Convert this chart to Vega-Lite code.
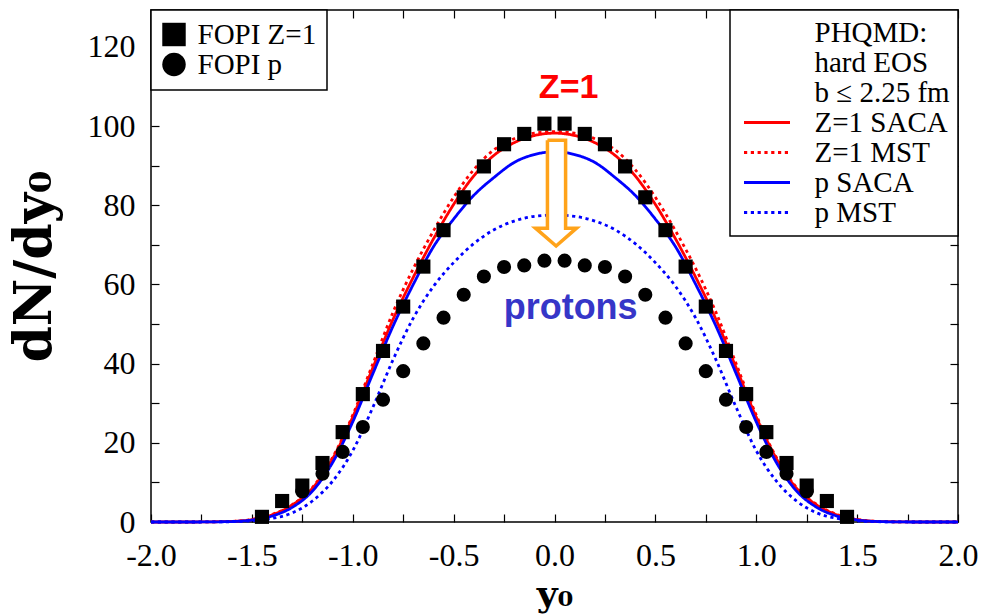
{
  "$schema": "https://vega.github.io/schema/vega-lite/v6.json",
  "width": 807,
  "height": 512,
  "autosize": {"type": "none"},
  "padding": {"left": 151, "top": 10, "right": 24, "bottom": 92},
  "background": "white",
  "config": {
    "view": {"stroke": "black", "strokeWidth": 1.5},
    "axis": {
      "domain": false, "grid": false, "tickColor": "black", "tickWidth": 1.2, "tickSize": -8,
      "labelFont": "Liberation Serif", "labelFontSize": 32, "labelColor": "black",
      "titleFont": "DejaVu Serif", "titleFontWeight": "bold", "titleColor": "black",
      "labelFlush": false, "labelOverlap": false
    },
    "legend": {"strokeWidth": 1.5}
  },
  "datasets": {
    "curves": [
      {"s":"Z=1 SACA","x":-2.0,"y":0},{"s":"Z=1 SACA","x":-1.9,"y":0},{"s":"Z=1 SACA","x":-1.8,"y":0},{"s":"Z=1 SACA","x":-1.7,"y":0.05},{"s":"Z=1 SACA","x":-1.6,"y":0.15},{"s":"Z=1 SACA","x":-1.5,"y":0.6},{"s":"Z=1 SACA","x":-1.4,"y":1.8},{"s":"Z=1 SACA","x":-1.3,"y":4.3},{"s":"Z=1 SACA","x":-1.2,"y":8.5},{"s":"Z=1 SACA","x":-1.1,"y":16.0},{"s":"Z=1 SACA","x":-1.0,"y":26.5},{"s":"Z=1 SACA","x":-0.9,"y":39.0},{"s":"Z=1 SACA","x":-0.8,"y":51.2},{"s":"Z=1 SACA","x":-0.7,"y":61.8},{"s":"Z=1 SACA","x":-0.6,"y":71.5},{"s":"Z=1 SACA","x":-0.5,"y":80.2},{"s":"Z=1 SACA","x":-0.4,"y":87.4},{"s":"Z=1 SACA","x":-0.3,"y":92.6},{"s":"Z=1 SACA","x":-0.2,"y":95.8},{"s":"Z=1 SACA","x":-0.1,"y":97.6},{"s":"Z=1 SACA","x":0.0,"y":98.2},{"s":"Z=1 SACA","x":0.1,"y":97.6},{"s":"Z=1 SACA","x":0.2,"y":95.8},{"s":"Z=1 SACA","x":0.3,"y":92.6},{"s":"Z=1 SACA","x":0.4,"y":87.4},{"s":"Z=1 SACA","x":0.5,"y":80.2},{"s":"Z=1 SACA","x":0.6,"y":71.5},{"s":"Z=1 SACA","x":0.7,"y":61.8},{"s":"Z=1 SACA","x":0.8,"y":51.2},{"s":"Z=1 SACA","x":0.9,"y":39.0},{"s":"Z=1 SACA","x":1.0,"y":26.5},{"s":"Z=1 SACA","x":1.1,"y":16.0},{"s":"Z=1 SACA","x":1.2,"y":8.5},{"s":"Z=1 SACA","x":1.3,"y":4.3},{"s":"Z=1 SACA","x":1.4,"y":1.8},{"s":"Z=1 SACA","x":1.5,"y":0.6},{"s":"Z=1 SACA","x":1.6,"y":0.15},{"s":"Z=1 SACA","x":1.7,"y":0.05},{"s":"Z=1 SACA","x":1.8,"y":0},{"s":"Z=1 SACA","x":1.9,"y":0},{"s":"Z=1 SACA","x":2.0,"y":0},
      {"s":"Z=1 MST","x":-2.0,"y":0},{"s":"Z=1 MST","x":-1.9,"y":0},{"s":"Z=1 MST","x":-1.8,"y":0},{"s":"Z=1 MST","x":-1.7,"y":0.05},{"s":"Z=1 MST","x":-1.6,"y":0.15},{"s":"Z=1 MST","x":-1.5,"y":0.65},{"s":"Z=1 MST","x":-1.4,"y":1.9},{"s":"Z=1 MST","x":-1.3,"y":4.4},{"s":"Z=1 MST","x":-1.2,"y":8.7},{"s":"Z=1 MST","x":-1.1,"y":16.3},{"s":"Z=1 MST","x":-1.0,"y":27.0},{"s":"Z=1 MST","x":-0.9,"y":40.0},{"s":"Z=1 MST","x":-0.8,"y":53.0},{"s":"Z=1 MST","x":-0.7,"y":64.0},{"s":"Z=1 MST","x":-0.6,"y":73.5},{"s":"Z=1 MST","x":-0.5,"y":82.0},{"s":"Z=1 MST","x":-0.4,"y":89.0},{"s":"Z=1 MST","x":-0.3,"y":94.0},{"s":"Z=1 MST","x":-0.2,"y":96.8},{"s":"Z=1 MST","x":-0.1,"y":98.2},{"s":"Z=1 MST","x":0.0,"y":98.6},{"s":"Z=1 MST","x":0.1,"y":98.2},{"s":"Z=1 MST","x":0.2,"y":96.8},{"s":"Z=1 MST","x":0.3,"y":94.0},{"s":"Z=1 MST","x":0.4,"y":89.0},{"s":"Z=1 MST","x":0.5,"y":82.0},{"s":"Z=1 MST","x":0.6,"y":73.5},{"s":"Z=1 MST","x":0.7,"y":64.0},{"s":"Z=1 MST","x":0.8,"y":53.0},{"s":"Z=1 MST","x":0.9,"y":40.0},{"s":"Z=1 MST","x":1.0,"y":27.0},{"s":"Z=1 MST","x":1.1,"y":16.3},{"s":"Z=1 MST","x":1.2,"y":8.7},{"s":"Z=1 MST","x":1.3,"y":4.4},{"s":"Z=1 MST","x":1.4,"y":1.9},{"s":"Z=1 MST","x":1.5,"y":0.65},{"s":"Z=1 MST","x":1.6,"y":0.15},{"s":"Z=1 MST","x":1.7,"y":0.05},{"s":"Z=1 MST","x":1.8,"y":0},{"s":"Z=1 MST","x":1.9,"y":0},{"s":"Z=1 MST","x":2.0,"y":0},
      {"s":"p SACA","x":-2.0,"y":0},{"s":"p SACA","x":-1.9,"y":0},{"s":"p SACA","x":-1.8,"y":0},{"s":"p SACA","x":-1.7,"y":0.03},{"s":"p SACA","x":-1.6,"y":0.12},{"s":"p SACA","x":-1.5,"y":0.5},{"s":"p SACA","x":-1.4,"y":1.5},{"s":"p SACA","x":-1.3,"y":3.7},{"s":"p SACA","x":-1.2,"y":7.8},{"s":"p SACA","x":-1.1,"y":15.0},{"s":"p SACA","x":-1.0,"y":25.3},{"s":"p SACA","x":-0.9,"y":37.5},{"s":"p SACA","x":-0.8,"y":49.5},{"s":"p SACA","x":-0.7,"y":60.0},{"s":"p SACA","x":-0.6,"y":69.5},{"s":"p SACA","x":-0.5,"y":76.5},{"s":"p SACA","x":-0.4,"y":82.5},{"s":"p SACA","x":-0.3,"y":87.0},{"s":"p SACA","x":-0.2,"y":90.8},{"s":"p SACA","x":-0.1,"y":92.8},{"s":"p SACA","x":0.0,"y":93.5},{"s":"p SACA","x":0.1,"y":92.8},{"s":"p SACA","x":0.2,"y":90.8},{"s":"p SACA","x":0.3,"y":87.0},{"s":"p SACA","x":0.4,"y":82.5},{"s":"p SACA","x":0.5,"y":76.5},{"s":"p SACA","x":0.6,"y":69.5},{"s":"p SACA","x":0.7,"y":60.0},{"s":"p SACA","x":0.8,"y":49.5},{"s":"p SACA","x":0.9,"y":37.5},{"s":"p SACA","x":1.0,"y":25.3},{"s":"p SACA","x":1.1,"y":15.0},{"s":"p SACA","x":1.2,"y":7.8},{"s":"p SACA","x":1.3,"y":3.7},{"s":"p SACA","x":1.4,"y":1.5},{"s":"p SACA","x":1.5,"y":0.5},{"s":"p SACA","x":1.6,"y":0.12},{"s":"p SACA","x":1.7,"y":0.03},{"s":"p SACA","x":1.8,"y":0},{"s":"p SACA","x":1.9,"y":0},{"s":"p SACA","x":2.0,"y":0},
      {"s":"p MST","x":-2.0,"y":0},{"s":"p MST","x":-1.9,"y":0},{"s":"p MST","x":-1.8,"y":0},{"s":"p MST","x":-1.7,"y":0.02},{"s":"p MST","x":-1.6,"y":0.08},{"s":"p MST","x":-1.5,"y":0.3},{"s":"p MST","x":-1.4,"y":0.9},{"s":"p MST","x":-1.3,"y":2.3},{"s":"p MST","x":-1.2,"y":5.3},{"s":"p MST","x":-1.1,"y":10.3},{"s":"p MST","x":-1.0,"y":18.0},{"s":"p MST","x":-0.9,"y":29.0},{"s":"p MST","x":-0.8,"y":41.0},{"s":"p MST","x":-0.7,"y":51.5},{"s":"p MST","x":-0.6,"y":59.5},{"s":"p MST","x":-0.5,"y":65.5},{"s":"p MST","x":-0.4,"y":70.3},{"s":"p MST","x":-0.3,"y":73.8},{"s":"p MST","x":-0.2,"y":76.0},{"s":"p MST","x":-0.1,"y":77.2},{"s":"p MST","x":0.0,"y":77.5},{"s":"p MST","x":0.1,"y":77.2},{"s":"p MST","x":0.2,"y":76.0},{"s":"p MST","x":0.3,"y":73.8},{"s":"p MST","x":0.4,"y":70.3},{"s":"p MST","x":0.5,"y":65.5},{"s":"p MST","x":0.6,"y":59.5},{"s":"p MST","x":0.7,"y":51.5},{"s":"p MST","x":0.8,"y":41.0},{"s":"p MST","x":0.9,"y":29.0},{"s":"p MST","x":1.0,"y":18.0},{"s":"p MST","x":1.1,"y":10.3},{"s":"p MST","x":1.2,"y":5.3},{"s":"p MST","x":1.3,"y":2.3},{"s":"p MST","x":1.4,"y":0.9},{"s":"p MST","x":1.5,"y":0.3},{"s":"p MST","x":1.6,"y":0.08},{"s":"p MST","x":1.7,"y":0.02},{"s":"p MST","x":1.8,"y":0},{"s":"p MST","x":1.9,"y":0},{"s":"p MST","x":2.0,"y":0}
    ],
    "fopi": [
      {"kind":"FOPI Z=1","x":-1.45,"y":1.3},{"kind":"FOPI Z=1","x":-1.35,"y":5.3},{"kind":"FOPI Z=1","x":-1.25,"y":9.2},{"kind":"FOPI Z=1","x":-1.15,"y":14.9},{"kind":"FOPI Z=1","x":-1.05,"y":22.7},{"kind":"FOPI Z=1","x":-0.95,"y":32.3},{"kind":"FOPI Z=1","x":-0.85,"y":43.2},{"kind":"FOPI Z=1","x":-0.75,"y":54.4},{"kind":"FOPI Z=1","x":-0.65,"y":64.5},{"kind":"FOPI Z=1","x":-0.55,"y":73.7},{"kind":"FOPI Z=1","x":-0.45,"y":82.0},{"kind":"FOPI Z=1","x":-0.35,"y":89.8},{"kind":"FOPI Z=1","x":-0.25,"y":95.4},{"kind":"FOPI Z=1","x":-0.15,"y":98.0},{"kind":"FOPI Z=1","x":-0.05,"y":100.6},
      {"kind":"FOPI Z=1","x":0.05,"y":100.6},{"kind":"FOPI Z=1","x":0.15,"y":98.0},{"kind":"FOPI Z=1","x":0.25,"y":95.4},{"kind":"FOPI Z=1","x":0.35,"y":89.8},{"kind":"FOPI Z=1","x":0.45,"y":82.0},{"kind":"FOPI Z=1","x":0.55,"y":73.7},{"kind":"FOPI Z=1","x":0.65,"y":64.5},{"kind":"FOPI Z=1","x":0.75,"y":54.4},{"kind":"FOPI Z=1","x":0.85,"y":43.2},{"kind":"FOPI Z=1","x":0.95,"y":32.3},{"kind":"FOPI Z=1","x":1.05,"y":22.7},{"kind":"FOPI Z=1","x":1.15,"y":14.9},{"kind":"FOPI Z=1","x":1.25,"y":9.2},{"kind":"FOPI Z=1","x":1.35,"y":5.3},{"kind":"FOPI Z=1","x":1.45,"y":1.3},
      {"kind":"FOPI p","x":-1.25,"y":7.7},{"kind":"FOPI p","x":-1.15,"y":12.2},{"kind":"FOPI p","x":-1.05,"y":17.7},{"kind":"FOPI p","x":-0.95,"y":24.0},{"kind":"FOPI p","x":-0.85,"y":30.9},{"kind":"FOPI p","x":-0.75,"y":38.1},{"kind":"FOPI p","x":-0.65,"y":45.1},{"kind":"FOPI p","x":-0.55,"y":51.6},{"kind":"FOPI p","x":-0.45,"y":57.4},{"kind":"FOPI p","x":-0.35,"y":62.0},{"kind":"FOPI p","x":-0.25,"y":64.4},{"kind":"FOPI p","x":-0.15,"y":64.8},{"kind":"FOPI p","x":-0.05,"y":66.0},
      {"kind":"FOPI p","x":0.05,"y":66.0},{"kind":"FOPI p","x":0.15,"y":64.8},{"kind":"FOPI p","x":0.25,"y":64.4},{"kind":"FOPI p","x":0.35,"y":62.0},{"kind":"FOPI p","x":0.45,"y":57.4},{"kind":"FOPI p","x":0.55,"y":51.6},{"kind":"FOPI p","x":0.65,"y":45.1},{"kind":"FOPI p","x":0.75,"y":38.1},{"kind":"FOPI p","x":0.85,"y":30.9},{"kind":"FOPI p","x":0.95,"y":24.0},{"kind":"FOPI p","x":1.05,"y":17.7},{"kind":"FOPI p","x":1.15,"y":12.2},{"kind":"FOPI p","x":1.25,"y":7.7}
    ],
    "arrow": [
      {"i":0,"x":-0.035,"y":96.4},{"i":1,"x":0.055,"y":96.4},{"i":2,"x":0.055,"y":74.2},{"i":3,"x":0.109,"y":74.2},{"i":4,"x":0.008,"y":69.7},{"i":5,"x":-0.094,"y":74.2},{"i":6,"x":-0.035,"y":74.2},{"i":7,"x":-0.035,"y":96.4}
    ]
  },
  "layer": [
    {
      "data": {"name": "curves"},
      "mark": {"type": "line", "strokeWidth": 2.8, "interpolate": "monotone"},
      "encoding": {
        "x": {
          "field": "x", "type": "quantitative",
          "scale": {"domain": [-2, 2], "nice": false, "zero": false},
          "axis": {
            "orient": "bottom",
            "values": [-2, -1.75, -1.5, -1.25, -1, -0.75, -0.5, -0.25, 0, 0.25, 0.5, 0.75, 1, 1.25, 1.5, 1.75, 2],
            "labelExpr": "datum.value * 2 == round(datum.value * 2) ? (datum.value < 0 ? '-' + format(-datum.value, '.1f') : format(datum.value, '.1f')) : ''",
            "labelPadding": 26,
            "title": "y₀", "titleFontSize": 36, "titleBaseline": "bottom", "titleY": 91
          }
        },
        "y": {
          "field": "y", "type": "quantitative",
          "scale": {"domain": [0, 129.3], "nice": false, "zero": false},
          "axis": {
            "orient": "left",
            "values": [0, 10, 20, 30, 40, 50, 60, 70, 80, 90, 100, 110, 120],
            "labelExpr": "datum.value % 20 == 0 ? datum.label : ''",
            "labelPadding": 24,
            "title": "dN/dy₀", "titleFontSize": 52, "titlePadding": 26
          }
        },
        "color": {
          "field": "s", "type": "nominal",
          "scale": {
            "domain": ["PHQMD:", "hard EOS", "b ≤ 2.25 fm", "Z=1 SACA", "Z=1 MST", "p SACA", "p MST"],
            "range": ["transparent", "transparent", "transparent", "#ff0000", "#ff0000", "#0000ff", "#0000ff"]
          },
          "legend": {
            "title": null, "orient": "top-right", "offset": 0, "padding": 8,
            "strokeColor": "black", "fillColor": "white",
            "labelFont": "Liberation Serif", "labelFontSize": 29, "labelColor": "black",
            "labelExpr": "datum.label + '\u2002'", "labelLimit": 400,
            "symbolType": "M-2.3,0H2.3", "symbolSize": 400, "symbolStrokeWidth": 3,
            "symbolOffset": 14.5, "labelOffset": 33, "rowPadding": 0
          }
        },
        "strokeDash": {
          "field": "s", "type": "nominal",
          "scale": {
            "domain": ["PHQMD:", "hard EOS", "b ≤ 2.25 fm", "Z=1 SACA", "Z=1 MST", "p SACA", "p MST"],
            "range": [[1, 0], [1, 0], [1, 0], [1, 0], [3.2, 3.6], [1, 0], [3.2, 3.6]]
          }
        }
      }
    },
    {
      "data": {"name": "fopi"},
      "mark": {"type": "point", "filled": true, "color": "black", "size": 200, "opacity": 1, "strokeWidth": 0},
      "encoding": {
        "x": {
          "field": "x", "type": "quantitative",
          "axis": {
            "orient": "top",
            "values": [-2, -1.75, -1.5, -1.25, -1, -0.75, -0.5, -0.25, 0, 0.25, 0.5, 0.75, 1, 1.25, 1.5, 1.75, 2],
            "labels": false, "title": null
          }
        },
        "y": {
          "field": "y", "type": "quantitative",
          "axis": {
            "orient": "right",
            "values": [0, 10, 20, 30, 40, 50, 60, 70, 80, 90, 100, 110, 120],
            "labels": false, "title": null
          }
        },
        "shape": {
          "field": "kind", "type": "nominal",
          "scale": {"domain": ["FOPI Z=1", "FOPI p"], "range": ["square", "circle"]},
          "legend": {
            "title": null, "orient": "top-left", "offset": 0, "padding": 10,
            "strokeColor": "black", "fillColor": "white",
            "labelFont": "Liberation Serif", "labelFontSize": 29, "labelColor": "black",
            "labelExpr": "datum.label + '\u2002'", "labelLimit": 400,
            "symbolSize": 550, "symbolFillColor": "black", "symbolStrokeWidth": 0,
            "symbolOpacity": 1, "symbolOffset": -1.5, "labelOffset": 9, "rowPadding": 0
          }
        }
      }
    },
    {
      "data": {"name": "arrow"},
      "mark": {"type": "line", "fill": "white", "stroke": "#ffa31a", "strokeWidth": 3.5, "strokeJoin": "miter", "interpolate": "linear"},
      "encoding": {
        "x": {"field": "x", "type": "quantitative", "axis": null},
        "y": {"field": "y", "type": "quantitative", "axis": null},
        "order": {"field": "i", "type": "quantitative"}
      }
    },
    {
      "data": {"values": [{"x": 0.07, "y": 107, "t": "Z=1"}]},
      "mark": {"type": "text", "font": "Liberation Sans", "fontWeight": "bold", "fontSize": 34, "color": "#ff0000", "baseline": "alphabetic", "align": "center"},
      "encoding": {
        "x": {"field": "x", "type": "quantitative", "axis": null},
        "y": {"field": "y", "type": "quantitative", "axis": null},
        "text": {"field": "t"}
      }
    },
    {
      "data": {"values": [{"x": 0.08, "y": 51.3, "t": "protons"}]},
      "mark": {"type": "text", "font": "Liberation Sans", "fontWeight": "bold", "fontSize": 36, "color": "#3636c8", "baseline": "alphabetic", "align": "center"},
      "encoding": {
        "x": {"field": "x", "type": "quantitative", "axis": null},
        "y": {"field": "y", "type": "quantitative", "axis": null},
        "text": {"field": "t"}
      }
    }
  ],
  "resolve": {"axis": {"x": "independent", "y": "independent"}}
}
